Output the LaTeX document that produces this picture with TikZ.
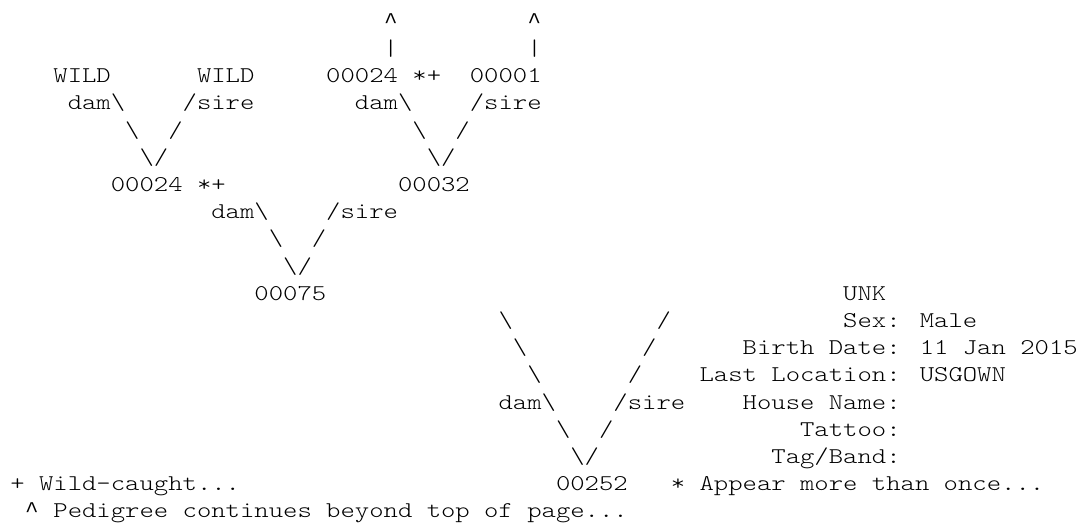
\documentclass[tikz,border=0pt]{standalone}
\usepackage{fontspec}
\newfontfamily\pedmono[FakeStretch=1.2157]{lmmonolt10-regular.otf}
\newfontfamily\caretfont{Liberation Mono}
\newcommand\crt{\makebox[14.36pt]{\caretfont\fontsize{22.5}{27}\selectfont\textasciicircum}}
\tikzset{
  asctxt/.style={anchor=base west, inner sep=0pt, outer sep=0pt,
    font=\pedmono\fontsize{22.5}{27}\selectfont, text=black}
}
\newcommand\asc[4]{\node[asctxt] (#1) at ({10.32+14.36*#2},{-(28.3+27.2*#3)}) {#4};}
\begin{document}
\begin{tikzpicture}[x=1pt,y=1pt]
\useasboundingbox (0,0) rectangle (1077,-525);
% row 0-1
\asc{ca}{26}{0}{\crt}
\asc{cb}{36}{0}{\crt}
\asc{ba}{26}{1}{\textbar}
\asc{bb}{36}{1}{\textbar}
% row 2
\asc{w1}{3}{2}{WILD}
\asc{w2}{13}{2}{WILD}
\asc{n24a}{22}{2}{00024}
\asc{m24a}{28}{2}{*+}
\asc{n01}{32}{2}{00001}
% row 3
\asc{d1}{4}{3}{dam\textbackslash}
\asc{s1}{12}{3}{/sire}
\asc{d2}{24}{3}{dam\textbackslash}
\asc{s2}{32}{3}{/sire}
% row 4
\asc{l1a}{8}{4}{\textbackslash}
\asc{r1a}{11}{4}{/}
\asc{l2a}{28}{4}{\textbackslash}
\asc{r2a}{31}{4}{/}
% row 5
\asc{v1}{9}{5}{\textbackslash/}
\asc{v2}{29}{5}{\textbackslash/}
% row 6
\asc{n24b}{7}{6}{00024}
\asc{m24b}{13}{6}{*+}
\asc{n32}{27}{6}{00032}
% row 7
\asc{d3}{14}{7}{dam\textbackslash}
\asc{s3}{22}{7}{/sire}
% row 8
\asc{l3}{18}{8}{\textbackslash}
\asc{r3}{21}{8}{/}
% row 9
\asc{v3}{19}{9}{\textbackslash/}
% row 10
\asc{n75}{17}{10}{00075}
\asc{unk}{58}{10}{UNK}
% row 11
\asc{l4a}{34}{11}{\textbackslash}
\asc{r4a}{45}{11}{/}
\asc{sex}{58}{11}{Sex: Male}
% row 12
\asc{l4b}{35}{12}{\textbackslash}
\asc{r4b}{44}{12}{/}
\asc{birth}{51}{12}{Birth Date: 11 Jan 2015}
% row 13
\asc{l4c}{36}{13}{\textbackslash}
\asc{r4c}{43}{13}{/}
\asc{loc}{48}{13}{Last Location: USGOWN}
% row 14
\asc{d4}{34}{14}{dam\textbackslash}
\asc{s4}{42}{14}{/sire}
\asc{house}{51}{14}{House Name:}
% row 15
\asc{l4d}{38}{15}{\textbackslash}
\asc{r4d}{41}{15}{/}
\asc{tat}{55}{15}{Tattoo:}
% row 16
\asc{v4}{39}{16}{\textbackslash/}
\asc{tag}{53}{16}{Tag/Band:}
% row 17
\asc{wild}{0}{17}{+ Wild-caught...}
\asc{n252}{38}{17}{00252}
\asc{app}{46}{17}{* Appear more than once...}
% row 18
\asc{ped}{1}{18}{\crt{} Pedigree continues beyond top of page...}
\end{tikzpicture}
\end{document}
